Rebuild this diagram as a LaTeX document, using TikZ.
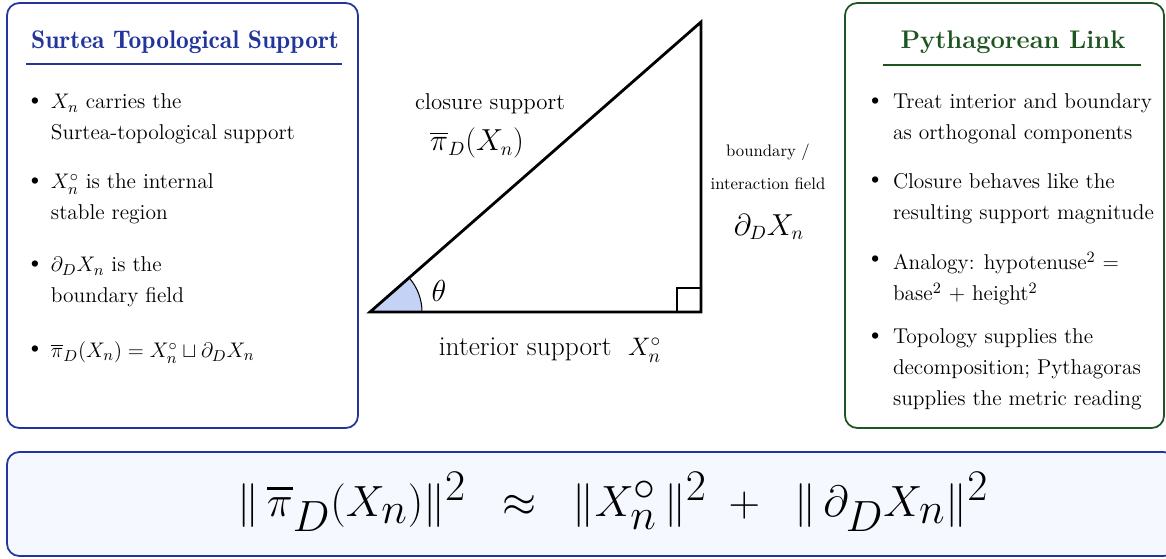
\documentclass[tikz,border=0pt]{standalone}
\usepackage{amsmath}
\usepackage{amssymb}
\usepackage{xcolor}
\usetikzlibrary{positioning, calc}
\definecolor{stblue}{HTML}{22359C}
\definecolor{stgreen}{HTML}{1D5420}
\definecolor{stfill}{HTML}{F5F8FF}
\definecolor{stangle}{HTML}{C4D3F5}

\begin{document}
\begin{tikzpicture}[
  x=0.02cm, y=-0.02cm,
  every node/.style={inner sep=0pt, outer sep=0pt},
  panel/.style={draw, line width=1pt, rounded corners=7pt},
  heading/.style={font=\fontsize{14.5}{17}\selectfont\bfseries},
  item/.style={anchor=north west, align=left, font=\fontsize{12.2}{17.6}\selectfont},
  dot/.style={anchor=west, font=\fontsize{16}{16}\selectfont},
  tlabel/.style={font=\fontsize{13}{17}\selectfont},
  slabel/.style={align=center, font=\fontsize{9.5}{18.5}\selectfont},
  mlabel/.style={font=\fontsize{16}{18}\selectfont},
]
\useasboundingbox (0,0) rectangle (1166,558);

% left panel
\draw[panel, draw=stblue] (7,3) rectangle (358,428);
\node[heading, font=\fontsize{14.5}{17}\fontseries{b}\selectfont, text=stblue, anchor=base] (lhead) at (185,48) {Surtea Topological Support};
\draw[stblue, line width=0.8pt] (26,64) -- (342,64);
\node[dot] (lb1) at (25,103) {\textbullet};
\node[item] (li1) at (51,94) {$X_n$ carries the\\Surtea-topological support};
\node[dot] (lb2) at (25,183) {\textbullet};
\node[item] (li2) at (51,174) {$X_n^{\circ}$ is the internal\\stable region};
\node[dot] (lb3) at (25,266) {\textbullet};
\node[item] (li3) at (51,257) {$\partial_D X_n$ is the\\boundary field};
\node[dot] (lb4) at (25,351) {\textbullet};
\node[item] (li4) at (51,342) {$\overline{\pi}_D(X_n) = X_n^{\circ} \sqcup \partial_D X_n$};

% triangle
\coordinate (A) at (370,312);
\coordinate (B) at (701,312);
\coordinate (C) at (701,22);
\fill[stangle] (A) -- ++(52,0) arc[start angle=0, end angle=-41.2, radius=52] -- cycle;
\draw[line width=0.6pt] ($(A)+(52,0)$) arc[start angle=0, end angle=-41.2, radius=52];
\draw[line width=0.6pt] ($(B)+(-24,0)$) -- ++(0,-24) -- ++(24,0);
\draw[line width=1.6pt] (A) -- (B) -- (C) -- cycle;
\node[mlabel] (theta) at (439,291) {$\theta$};
\node[tlabel] (hyp) at (490,104) {closure support};
\node[mlabel] (hypm) at (477,143) {$\overline{\pi}_D(X_n)$};
\node[slabel] (leg) at (768,167) {boundary /\\interaction field};
\node[mlabel] (legm) at (769,227) {$\partial_D X_n$};
\node[font=\fontsize{15.6}{17}\selectfont] (base) at (550,350) {interior support\ \ $X_n^{\circ}$};

% right panel
\draw[panel, draw=stgreen] (845,3) rectangle (1164,428);
\node[heading, text=stgreen, anchor=base] (rhead) at (1013,48) {Pythagorean Link};
\draw[stgreen, line width=0.8pt] (883,65) -- (1141,65);
\node[dot] (rb1) at (865,103) {\textbullet};
\node[item] (ri1) at (893,94) {Treat interior and boundary\\as orthogonal components};
\node[dot] (rb2) at (865,182) {\textbullet};
\node[item] (ri2) at (893,173) {Closure behaves like the\\resulting support magnitude};
\node[dot] (rb3) at (865,261) {\textbullet};
\node[item] (ri3) at (893,252) {Analogy: hypotenuse$^2$ =\\base$^2$ + height$^2$};
\node[dot] (rb4) at (865,338) {\textbullet};
\node[item] (ri4) at (893,329) {Topology supplies the\\decomposition; Pythagoras\\supplies the metric reading};

% bottom formula
\draw[panel, draw=stblue, fill=stfill] (7,452) rectangle (1176,556);
\node[font=\fontsize{37}{42}\selectfont] (eq) at (613,502)
  {$\|\,\overline{\pi}_D(X_n)\|^2 \;\;\approx\;\; \|X_n^{\circ}\,\|^2 \;+\;\; \|\,\partial_D X_n\|^2$};
\end{tikzpicture}
\end{document}
